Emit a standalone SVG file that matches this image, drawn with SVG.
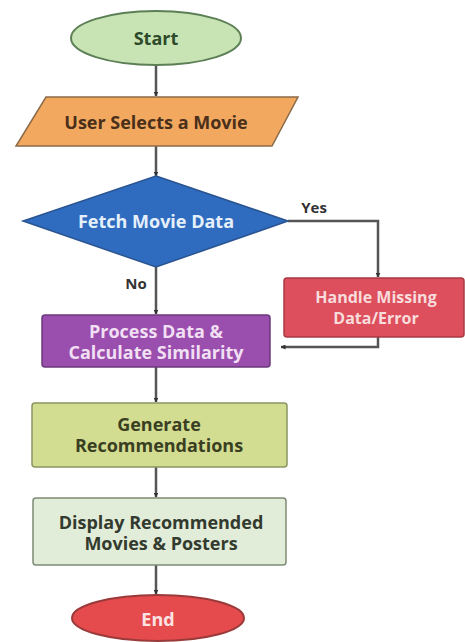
<svg xmlns="http://www.w3.org/2000/svg" width="465" height="642" viewBox="0 0 465 642">
<defs>
<marker id="arr" viewBox="0 0 10 10" refX="9" refY="5" markerWidth="5" markerHeight="5" orient="auto-start-reverse" markerUnits="userSpaceOnUse">
<path d="M0,0 L10,5 L0,10 z" fill="#333"/>
</marker>
<style>
text{font-family:"Open Sans",Lato,"Liberation Sans",sans-serif;font-weight:bold;font-size:18px;text-anchor:middle;dominant-baseline:central}
.c{fill:none;stroke:#555;stroke-width:2.5}
.lbl{fill:#333;font-size:15px}
.sm{font-size:16px}
</style>
</defs>
<rect width="465" height="642" fill="#ffffff"/>
<g id="connectors">
<line class="c" x1="156" y1="65" x2="156" y2="96" marker-end="url(#arr)"/>
<line class="c" x1="156" y1="146" x2="156" y2="176" marker-end="url(#arr)"/>
<polyline class="c" points="288,221 378,221 378,277" marker-end="url(#arr)"/>
<line class="c" x1="156" y1="267" x2="156" y2="314" marker-end="url(#arr)"/>
<polyline class="c" points="378,337 378,347 281,347" marker-end="url(#arr)"/>
<line class="c" x1="156" y1="367" x2="156" y2="402" marker-end="url(#arr)"/>
<line class="c" x1="156" y1="467" x2="156" y2="497" marker-end="url(#arr)"/>
<line class="c" x1="156" y1="565" x2="156" y2="594" marker-end="url(#arr)"/>
<text class="lbl" x="314" y="207">Yes</text>
<text class="lbl" x="136" y="283">No</text>
</g>
<g id="start">
<ellipse cx="156" cy="38" rx="85" ry="27" fill="#c8e4b4" stroke="#5c7f55" stroke-width="2"/>
<text x="156" y="38" fill="#2d4a2a">Start</text>
</g>
<g id="select">
<polygon points="46,97 298,97 272,146 16,146" fill="#f2a95f" stroke="#8a6a48" stroke-width="1.5"/>
<text x="156" y="122" fill="#4a2f1a">User Selects a Movie</text>
</g>
<g id="fetch">
<polygon points="156,176 288,221 156,267 23,221" fill="#2f6cbf" stroke="#2a5490" stroke-width="1.5"/>
<text x="156" y="221" fill="#e6f0fb">Fetch Movie Data</text>
</g>
<g id="handle">
<rect x="284" y="278" width="180" height="59" rx="3" fill="#dd4f5c" stroke="#a83a44" stroke-width="1.5"/>
<text class="sm" x="376" y="297" fill="#f8dcdc">Handle Missing</text>
<text class="sm" x="376" y="318" fill="#f8dcdc">Data/Error</text>
</g>
<g id="process">
<rect x="42" y="315" width="228" height="52" rx="3" fill="#9a4fae" stroke="#6c3a7a" stroke-width="1.5"/>
<text x="156" y="331" fill="#f1dff3">Process Data &amp;</text>
<text x="156" y="352" fill="#f1dff3">Calculate Similarity</text>
</g>
<g id="generate">
<rect x="32" y="403" width="255" height="64" rx="3" fill="#d2dd92" stroke="#8b9561" stroke-width="1.5"/>
<text x="159" y="424" fill="#3a3f22">Generate</text>
<text x="159" y="445" fill="#3a3f22">Recommendations</text>
</g>
<g id="display">
<rect x="33" y="498" width="253" height="67" rx="3" fill="#e2edd9" stroke="#7d8a74" stroke-width="1.5"/>
<text x="161" y="522" fill="#333a2e">Display Recommended</text>
<text x="161" y="543" fill="#333a2e">Movies &amp; Posters</text>
</g>
<g id="end">
<ellipse cx="158" cy="618" rx="86" ry="23" fill="#e54a4c" stroke="#9a3a3a" stroke-width="2"/>
<text x="158" y="619" fill="#fbe3e3">End</text>
</g>
</svg>
